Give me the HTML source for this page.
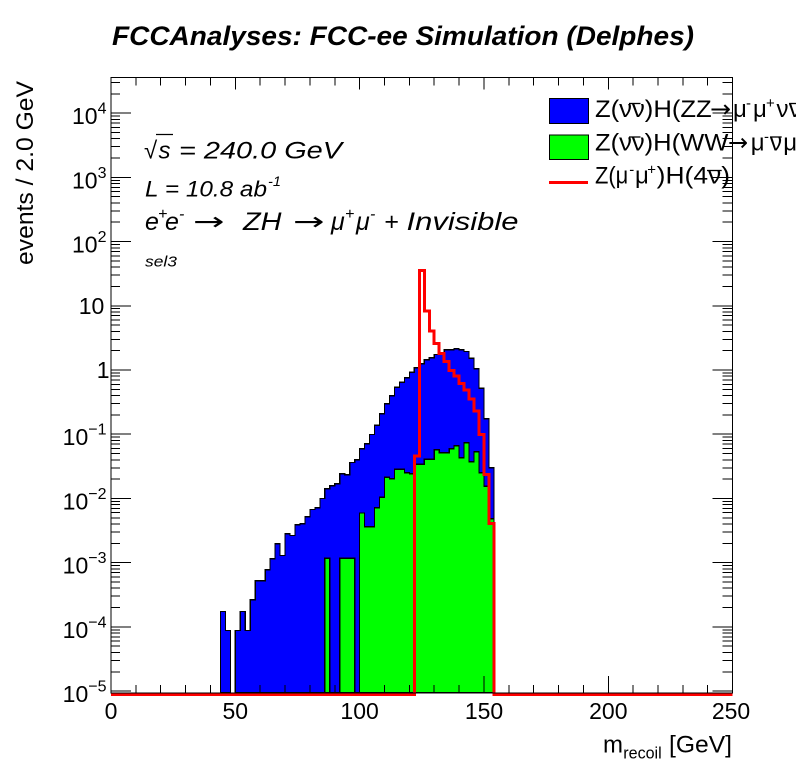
<!DOCTYPE html>
<html>
<head>
<meta charset="utf-8">
<style>
html,body{margin:0;padding:0;background:#fff;}
svg{display:block;}
text{font-family:"Liberation Sans",Arial,sans-serif;fill:#000;}
text.arr{font-family:"DejaVu Sans",sans-serif;font-style:normal;}
</style>
</head>
<body>
<svg width="796" height="772" viewBox="0 0 796 772" xmlns="http://www.w3.org/2000/svg">
<rect x="0" y="0" width="796" height="772" fill="#fff"/>

<!-- Title -->
<text x="112" y="45" font-size="27" font-weight="bold" font-style="italic" textLength="582" lengthAdjust="spacingAndGlyphs">FCCAnalyses: FCC-ee Simulation (Delphes)</text>

<!-- Blue histogram -->
<g fill="#0000ff" stroke="#000" stroke-width="1.2" shape-rendering="crispEdges">
<path d="M220.40,692.8 V611.5 H225.37 V630.5 H230.35 V692.8 Z"/>
<path d="M235.32,692.8 V630.5 H240.29 V611.5 H245.27 V630.5 H250.24 V599.8 H255.21 V580.8 H265.16 V569.8 H270.13 V558.8 H275.10 V543.8 H280.08 V555.5 H285.05 V533.8 H290.02 V535.5 H294.99 V524.8 H299.97 V523.8 H304.94 V516.8 H309.91 V509.5 H314.88 V507.8 H319.86 V498.5 H324.83 V488.8 H329.80 V485.8 H334.78 V483.8 H339.75 V473.8 H344.72 V474.8 H349.69 V462.5 H354.67 V459.8 H359.64 V448.8 H364.61 V443.8 H369.59 V434.5 H374.56 V425.2 H379.53 V413.8 H384.50 V403.8 H389.48 V395.8 H394.45 V387.2 H399.42 V382.2 H404.40 V377.8 H409.37 V372.2 H414.34 V367.8 H419.31 V363.8 H424.29 V359.8 H429.26 V357.8 H434.23 V354.5 H439.20 V352.5 H444.18 V349.8 H454.12 V348.8 H459.10 V349.8 H464.07 V351.5 H469.04 V358.2 H474.01 V368.8 H478.99 V388.2 H483.96 V418.8 H488.93 V467.8 H493.91 V692.8 Z"/>
</g>

<!-- Green histogram -->
<g fill="#00ff00" stroke="#000" stroke-width="1.2" shape-rendering="crispEdges">
<path d="M324.83,692.8 V558.2 H329.80 V692.8 Z"/>
<path d="M339.75,692.8 V558.2 H354.67 V692.8 Z"/>
<path d="M359.64,692.8 V513 H364.61 V526.8 H374.56 V507.8 H379.53 V497.2 H384.50 V477.2 H389.48 V478.8 H394.45 V469.2 H404.40 V472.8 H409.37 V473.8 H414.34 V464.2 H424.29 V459.2 H434.23 V449.8 H439.20 V452.8 H449.15 V448.8 H454.12 V445.8 H459.10 V457.8 H464.07 V442.8 H469.04 V461.8 H474.01 V451.8 H478.99 V472.8 H483.96 V486.2 H488.93 V518.8 H493.91 V692.8 Z"/>
</g>

<!-- Red histogram -->
<path d="M111,694.3 H414.34 V456 H419.31 V270.3 H424.29 V311 H429.26 V331 H434.23 V343.7 H439.20 V353.7 H444.18 V361.7 H449.15 V370.3 H454.12 V376 H459.10 V383.3 H464.07 V390 H469.04 V399 H474.01 V411 H478.99 V434.7 H483.96 V474.3 H488.93 V523.3 H493.91 V694.3 H732.6" fill="none" stroke="#ff0000" stroke-width="3" stroke-linejoin="miter" shape-rendering="crispEdges"/>

<!-- Frame and ticks -->
<g stroke="#000" stroke-width="1" fill="none" shape-rendering="crispEdges">
<rect x="111" y="77.5" width="621.6" height="615.3"/>
<path d="M135.86,692.8v-8 M160.73,692.8v-8 M185.59,692.8v-8 M210.46,692.8v-8 M235.32,692.8v-17 M260.18,692.8v-8 M285.05,692.8v-8 M309.91,692.8v-8 M334.78,692.8v-8 M359.64,692.8v-17 M384.50,692.8v-8 M409.37,692.8v-8 M434.23,692.8v-8 M459.10,692.8v-8 M483.96,692.8v-17 M508.82,692.8v-8 M533.69,692.8v-8 M558.55,692.8v-8 M583.42,692.8v-8 M608.28,692.8v-17 M633.14,692.8v-8 M658.01,692.8v-8 M682.87,692.8v-8 M707.74,692.8v-8"/>
<path d="M135.86,77.5v8 M160.73,77.5v8 M185.59,77.5v8 M210.46,77.5v8 M235.32,77.5v12 M260.18,77.5v8 M285.05,77.5v8 M309.91,77.5v8 M334.78,77.5v8 M359.64,77.5v12 M384.50,77.5v8 M409.37,77.5v8 M434.23,77.5v8 M459.10,77.5v8 M483.96,77.5v12 M508.82,77.5v8 M533.69,77.5v8 M558.55,77.5v8 M583.42,77.5v8 M608.28,77.5v12 M633.14,77.5v8 M658.01,77.5v8 M682.87,77.5v8 M707.74,77.5v8"/>
<path d="M111,691.1h20 M111,626.88h20 M111,562.66h20 M111,498.44h20 M111,434.22h20 M111,370h20 M111,305.78h20 M111,241.56h20 M111,177.34h20 M111,113.12h20
M732.6,691.1h-20 M732.6,626.88h-20 M732.6,562.66h-20 M732.6,498.44h-20 M732.6,434.22h-20 M732.6,370h-20 M732.6,305.78h-20 M732.6,241.56h-20 M732.6,177.34h-20 M732.6,113.12h-20"/>
<path d="M111,671.77h9 M111,660.46h9 M111,652.44h9 M111,646.21h9 M111,641.13h9 M111,636.83h9 M111,633.10h9 M111,629.82h9
M111,607.55h9 M111,596.24h9 M111,588.22h9 M111,581.99h9 M111,576.91h9 M111,572.61h9 M111,568.88h9 M111,565.60h9
M111,543.33h9 M111,532.02h9 M111,524.00h9 M111,517.77h9 M111,512.69h9 M111,508.39h9 M111,504.66h9 M111,501.38h9
M111,479.11h9 M111,467.80h9 M111,459.78h9 M111,453.55h9 M111,448.47h9 M111,444.17h9 M111,440.44h9 M111,437.16h9
M111,414.89h9 M111,403.58h9 M111,395.56h9 M111,389.33h9 M111,384.25h9 M111,379.95h9 M111,376.22h9 M111,372.94h9
M111,350.67h9 M111,339.36h9 M111,331.34h9 M111,325.11h9 M111,320.03h9 M111,315.73h9 M111,312.00h9 M111,308.72h9
M111,286.45h9 M111,275.14h9 M111,267.12h9 M111,260.89h9 M111,255.81h9 M111,251.51h9 M111,247.78h9 M111,244.50h9
M111,222.23h9 M111,210.92h9 M111,202.90h9 M111,196.67h9 M111,191.59h9 M111,187.29h9 M111,183.56h9 M111,180.28h9
M111,158.01h9 M111,146.70h9 M111,138.68h9 M111,132.45h9 M111,127.37h9 M111,123.07h9 M111,119.34h9 M111,116.06h9
M111,93.79h9 M111,82.48h9"/>
<path d="M732.6,671.77h-10 M732.6,660.46h-10 M732.6,652.44h-10 M732.6,646.21h-10 M732.6,641.13h-10 M732.6,636.83h-10 M732.6,633.10h-10 M732.6,629.82h-10
M732.6,607.55h-10 M732.6,596.24h-10 M732.6,588.22h-10 M732.6,581.99h-10 M732.6,576.91h-10 M732.6,572.61h-10 M732.6,568.88h-10 M732.6,565.60h-10
M732.6,543.33h-10 M732.6,532.02h-10 M732.6,524.00h-10 M732.6,517.77h-10 M732.6,512.69h-10 M732.6,508.39h-10 M732.6,504.66h-10 M732.6,501.38h-10
M732.6,479.11h-10 M732.6,467.80h-10 M732.6,459.78h-10 M732.6,453.55h-10 M732.6,448.47h-10 M732.6,444.17h-10 M732.6,440.44h-10 M732.6,437.16h-10
M732.6,414.89h-10 M732.6,403.58h-10 M732.6,395.56h-10 M732.6,389.33h-10 M732.6,384.25h-10 M732.6,379.95h-10 M732.6,376.22h-10 M732.6,372.94h-10
M732.6,350.67h-10 M732.6,339.36h-10 M732.6,331.34h-10 M732.6,325.11h-10 M732.6,320.03h-10 M732.6,315.73h-10 M732.6,312.00h-10 M732.6,308.72h-10
M732.6,286.45h-10 M732.6,275.14h-10 M732.6,267.12h-10 M732.6,260.89h-10 M732.6,255.81h-10 M732.6,251.51h-10 M732.6,247.78h-10 M732.6,244.50h-10
M732.6,222.23h-10 M732.6,210.92h-10 M732.6,202.90h-10 M732.6,196.67h-10 M732.6,191.59h-10 M732.6,187.29h-10 M732.6,183.56h-10 M732.6,180.28h-10
M732.6,158.01h-10 M732.6,146.70h-10 M732.6,138.68h-10 M732.6,132.45h-10 M732.6,127.37h-10 M732.6,123.07h-10 M732.6,119.34h-10 M732.6,116.06h-10
M732.6,93.79h-10 M732.6,82.48h-10"/>
</g>

<!-- X tick labels -->
<g font-size="23" text-anchor="middle">
<text x="111" y="719">0</text>
<text x="235.3" y="719">50</text>
<text x="359.6" y="719">100</text>
<text x="484" y="719">150</text>
<text x="608.3" y="719">200</text>
<text x="731" y="719">250</text>
</g>

<!-- Y tick labels -->
<g font-size="23" text-anchor="end">
<text x="106.5" y="124.1">10<tspan font-size="16" dy="-10.5">4</tspan></text>
<text x="106.5" y="188.3">10<tspan font-size="16" dy="-10.5">3</tspan></text>
<text x="106.5" y="252.6">10<tspan font-size="16" dy="-10.5">2</tspan></text>
<text x="104.3" y="314">10</text>
<text x="109.5" y="378.2">1</text>
<text x="106.5" y="445.2">10<tspan font-size="16" dy="-10.5">−1</tspan></text>
<text x="106.5" y="509.4">10<tspan font-size="16" dy="-10.5">−2</tspan></text>
<text x="106.5" y="573.7">10<tspan font-size="16" dy="-10.5">−3</tspan></text>
<text x="106.5" y="637.9">10<tspan font-size="16" dy="-10.5">−4</tspan></text>
<text x="106.5" y="702.1">10<tspan font-size="16" dy="-10.5">−5</tspan></text>
</g>

<!-- Axis titles -->
<text transform="translate(33,265) rotate(-90)" font-size="24" textLength="184" lengthAdjust="spacingAndGlyphs">events / 2.0 GeV</text>
<text x="603" y="752.7" font-size="24">m</text>
<text x="623.3" y="758.5" font-size="17" textLength="38.4" lengthAdjust="spacingAndGlyphs">recoil</text>
<text x="669" y="752.7" font-size="24" textLength="63" lengthAdjust="spacingAndGlyphs">[GeV]</text>

<!-- Info text -->
<g font-style="italic">
<text x="144" y="158.5" font-size="24" font-style="normal">√</text>
<line x1="156" y1="134.5" x2="173" y2="134.5" stroke="#000" stroke-width="1.3"/>
<text x="158.5" y="158.5" font-size="24">s</text>
<text x="179" y="158.5" font-size="24" textLength="163" lengthAdjust="spacingAndGlyphs">= 240.0 GeV</text>

<text x="145" y="196.7" font-size="22" textLength="122" lengthAdjust="spacingAndGlyphs">L = 10.8 ab</text>
<text x="268" y="186" font-size="14" textLength="13" lengthAdjust="spacingAndGlyphs">-1</text>

<text x="145" y="230" font-size="25">e</text>
<text x="158" y="219" font-size="16">+</text>
<text x="165" y="230" font-size="25">e</text>
<text x="179" y="219" font-size="16">-</text>
<text class="arr" transform="translate(193,230) scale(1.5,1)" font-size="25">→</text>
<text x="243" y="230" font-size="25" textLength="38.5" lengthAdjust="spacingAndGlyphs">ZH</text>
<text class="arr" transform="translate(293,230) scale(1.5,1)" font-size="25">→</text>
<text x="331" y="230" font-size="25">μ</text>
<text x="345" y="219" font-size="16">+</text>
<text x="356" y="230" font-size="25">μ</text>
<text x="370" y="219" font-size="16">-</text>
<text x="384" y="230" font-size="25">+</text>
<text x="406.5" y="230" font-size="25" textLength="112" lengthAdjust="spacingAndGlyphs">Invisible</text>

<text x="145" y="266.7" font-size="15" textLength="32" lengthAdjust="spacingAndGlyphs">sel3</text>
</g>

<!-- Legend -->
<rect x="549.5" y="98.5" width="39" height="25" fill="#0000ff" stroke="#000" stroke-width="1" shape-rendering="crispEdges"/>
<rect x="549.5" y="135" width="39" height="24.5" fill="#00ff00" stroke="#000" stroke-width="1" shape-rendering="crispEdges"/>
<line x1="549" y1="182.5" x2="588" y2="182.5" stroke="#ff0000" stroke-width="3" shape-rendering="crispEdges"/>

<g font-size="24">
<text x="595" y="117" textLength="116.7" lengthAdjust="spacingAndGlyphs">Z(νν)H(ZZ</text>
<line x1="629" y1="103.5" x2="640.5" y2="103.5" stroke="#000" stroke-width="1.3"/>
<text class="arr" transform="translate(710,117) scale(1.05,1)" font-size="24">→</text>
<text x="733" y="117">μ</text>
<text x="746" y="108" font-size="15">-</text>
<text x="753" y="117">μ</text>
<text x="766" y="108" font-size="15">+</text>
<text x="776.5" y="117">ν</text>
<text x="789" y="117">ν</text>
<line x1="789" y1="103.5" x2="800" y2="103.5" stroke="#000" stroke-width="1.3"/>

<text x="595" y="150.3" textLength="133.3" lengthAdjust="spacingAndGlyphs">Z(νν)H(WW</text>
<line x1="629" y1="137" x2="640.5" y2="137" stroke="#000" stroke-width="1.3"/>
<text class="arr" transform="translate(728,150.3) scale(1.0,1)" font-size="24">→</text>
<text x="750.7" y="150.3">μ</text>
<text x="764" y="141.3" font-size="15">-</text>
<text x="770" y="150.3">ν</text>
<line x1="770" y1="137" x2="781.7" y2="137" stroke="#000" stroke-width="1.3"/>
<text x="783.3" y="150.3">μ</text>

<text x="595" y="183.7" textLength="33.3" lengthAdjust="spacingAndGlyphs">Z(μ</text>
<text x="629.3" y="174.7" font-size="15">-</text>
<text x="635" y="183.7">μ</text>
<text x="647.3" y="174.7" font-size="15">+</text>
<text x="656.7" y="183.7" textLength="73.3" lengthAdjust="spacingAndGlyphs">)H(4ν)</text>
<line x1="707" y1="170.5" x2="721.7" y2="170.5" stroke="#000" stroke-width="1.3"/>
</g>
</svg>
</body>
</html>
